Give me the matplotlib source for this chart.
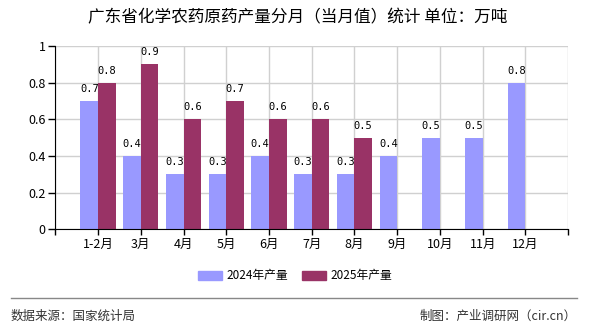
import numpy as np
import matplotlib.pyplot as plt
from matplotlib.lines import Line2D
import matplotlib.patches as mpatches

plt.rcParams['font.family'] = ['Noto Sans CJK SC', 'DejaVu Sans']

# ── Data ──────────────────────────────────────────────────────────────────────
months = ["1-2月", "3月", "4月", "5月", "6月", "7月", "8月", "9月", "10月", "11月", "12月"]
prod_2024 = [0.7, 0.4, 0.3, 0.3, 0.4, 0.3, 0.3, 0.4, 0.5, 0.5, 0.8]
prod_2025 = [0.8, 0.9, 0.6, 0.7, 0.6, 0.6, 0.5, np.nan, np.nan, np.nan, np.nan]
y_ticks = [0, 0.2, 0.4, 0.6, 0.8, 1]
y_tick_labels = ["0", "0.2", "0.4", "0.6", "0.8", "1"]

BLUE = "#9999FF"
RED = "#993366"
GRID = "#D0D0D0"

fig = plt.figure(figsize=(5.9, 3.3), dpi=100)
ax = fig.add_axes([0.0937, 0.305, 0.963 - 0.0937, 0.8606 - 0.305])

x = np.arange(len(months))
w = 0.41
b1 = ax.bar(x - w / 2, prod_2024, width=w, color=BLUE, zorder=3)
b2 = ax.bar(x + w / 2, prod_2025, width=w, color=RED, zorder=3)

# data labels above bars
for bars, vals in ((b1, prod_2024), (b2, prod_2025)):
    for rect, v in zip(bars, vals):
        if np.isnan(v):
            continue
        ax.annotate(f"{v:g}", xy=(rect.get_x() + rect.get_width() / 2, v),
                    xytext=(0, 5), textcoords="offset points",
                    ha="center", va="bottom", fontsize=7.5,
                    family="DejaVu Sans Mono", color="black", zorder=5)

ax.set_xlim(-1, 11)
ax.set_ylim(0, 1)

# x ticks at every category plus both edges (edges unlabeled)
ax.set_xticks(np.arange(-1, 12))
ax.set_xticklabels([""] + months + [""], fontsize=9)
ax.set_yticks(y_ticks)
ax.set_yticklabels(y_tick_labels, fontsize=9)
ax.tick_params(axis="x", direction="out", length=4, width=1, pad=2)
ax.tick_params(axis="y", direction="out", length=5, width=1, pad=2)

ax.grid(True, color=GRID, linewidth=1, zorder=0)
ax.set_axisbelow(True)
for s in ("top", "right"):
    ax.spines[s].set_visible(False)
ax.spines["left"].set_color("black")
ax.spines["bottom"].set_color("black")
ax.spines["left"].set_zorder(4)
ax.spines["bottom"].set_zorder(4)

fig.text(0.505, 0.945, "广东省化学农药原药产量分月（当月值）统计 单位：万吨",
         ha="center", va="center", fontsize=12)

fig.legend(handles=[mpatches.Patch(color=BLUE, label="2024年产量"),
                    mpatches.Patch(color=RED, label="2025年产量")],
           loc="center", bbox_to_anchor=(0.5, 0.164), ncol=2, frameon=False,
           fontsize=8.5, handlelength=2.0, handleheight=0.8,
           handletextpad=0.4, columnspacing=1.2)

# footer
fig.add_artist(Line2D([11 / 590, 577 / 590], [0.097, 0.097],
                      color="#888888", linewidth=1, transform=fig.transFigure))
fig.text(11 / 590, 0.042, "数据来源：国家统计局", ha="left", va="center",
         fontsize=9, color="#333333")
fig.text(577 / 590, 0.042, "制图：产业调研网（cir.cn）", ha="right", va="center",
         fontsize=9, color="#333333")

fig.savefig("out.png", dpi=100)
